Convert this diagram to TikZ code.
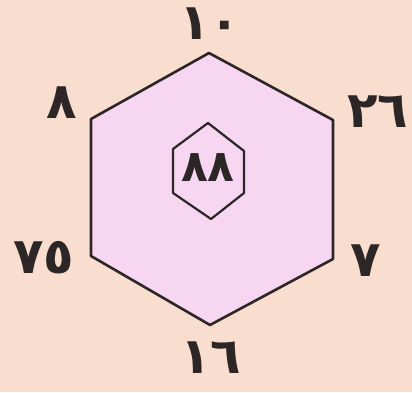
\documentclass[tikz,border=0pt]{standalone}
\usepackage{fontspec}
\newfontfamily\arabicfont[Script=Arabic]{DejaVu Sans}
\definecolor{bgpeach}{RGB}{249,222,207}
\definecolor{hexfill}{RGB}{246,214,240}
\definecolor{ink}{RGB}{45,38,38}
\tikzset{
  numlabel/.style={font=\arabicfont\bfseries\fontsize{50}{50}\selectfont, text=ink, inner sep=0pt},
  hexline/.style={draw=ink, line width=2.6pt, line join=round},
}
\begin{document}
\begin{tikzpicture}[x=1pt,y=-1pt]
\fill[bgpeach] (0,0) rectangle (412,392);
\useasboundingbox (0,0) rectangle (412,392);
% outer hexagon
\coordinate (o1) at (209,53);
\coordinate (o2) at (333,120);
\coordinate (o3) at (333,259);
\coordinate (o4) at (210,325);
\coordinate (o5) at (91,256);
\coordinate (o6) at (91,119);
\filldraw[hexline, fill=hexfill] (o1) -- (o2) -- (o3) -- (o4) -- (o5) -- (o6) -- cycle;
% inner hexagon
\coordinate (i1) at (208,123);
\coordinate (i2) at (244,151);
\coordinate (i3) at (244,193);
\coordinate (i4) at (211,219);
\coordinate (i5) at (173,193);
\coordinate (i6) at (173,149);
\draw[hexline, line width=2.2pt] (i1) -- (i2) -- (i3) -- (i4) -- (i5) -- (i6) -- cycle;
% labels
\node[numlabel] (ltop) at (210,24) {١٠};
\node[numlabel] (lur) at (378,112) {٢٦};
\node[numlabel] (llr) at (366,261) {٧};
\node[numlabel] (lbot) at (211,358) {١٦};
\node[numlabel] (lll) at (44,258) {٧٥};
\node[numlabel] (lul) at (62,103) {٨};
\node[numlabel, font=\arabicfont\bfseries\fontsize{44}{44}\selectfont] (lmid) at (208,168) {٨٨};
\end{tikzpicture}
\end{document}
